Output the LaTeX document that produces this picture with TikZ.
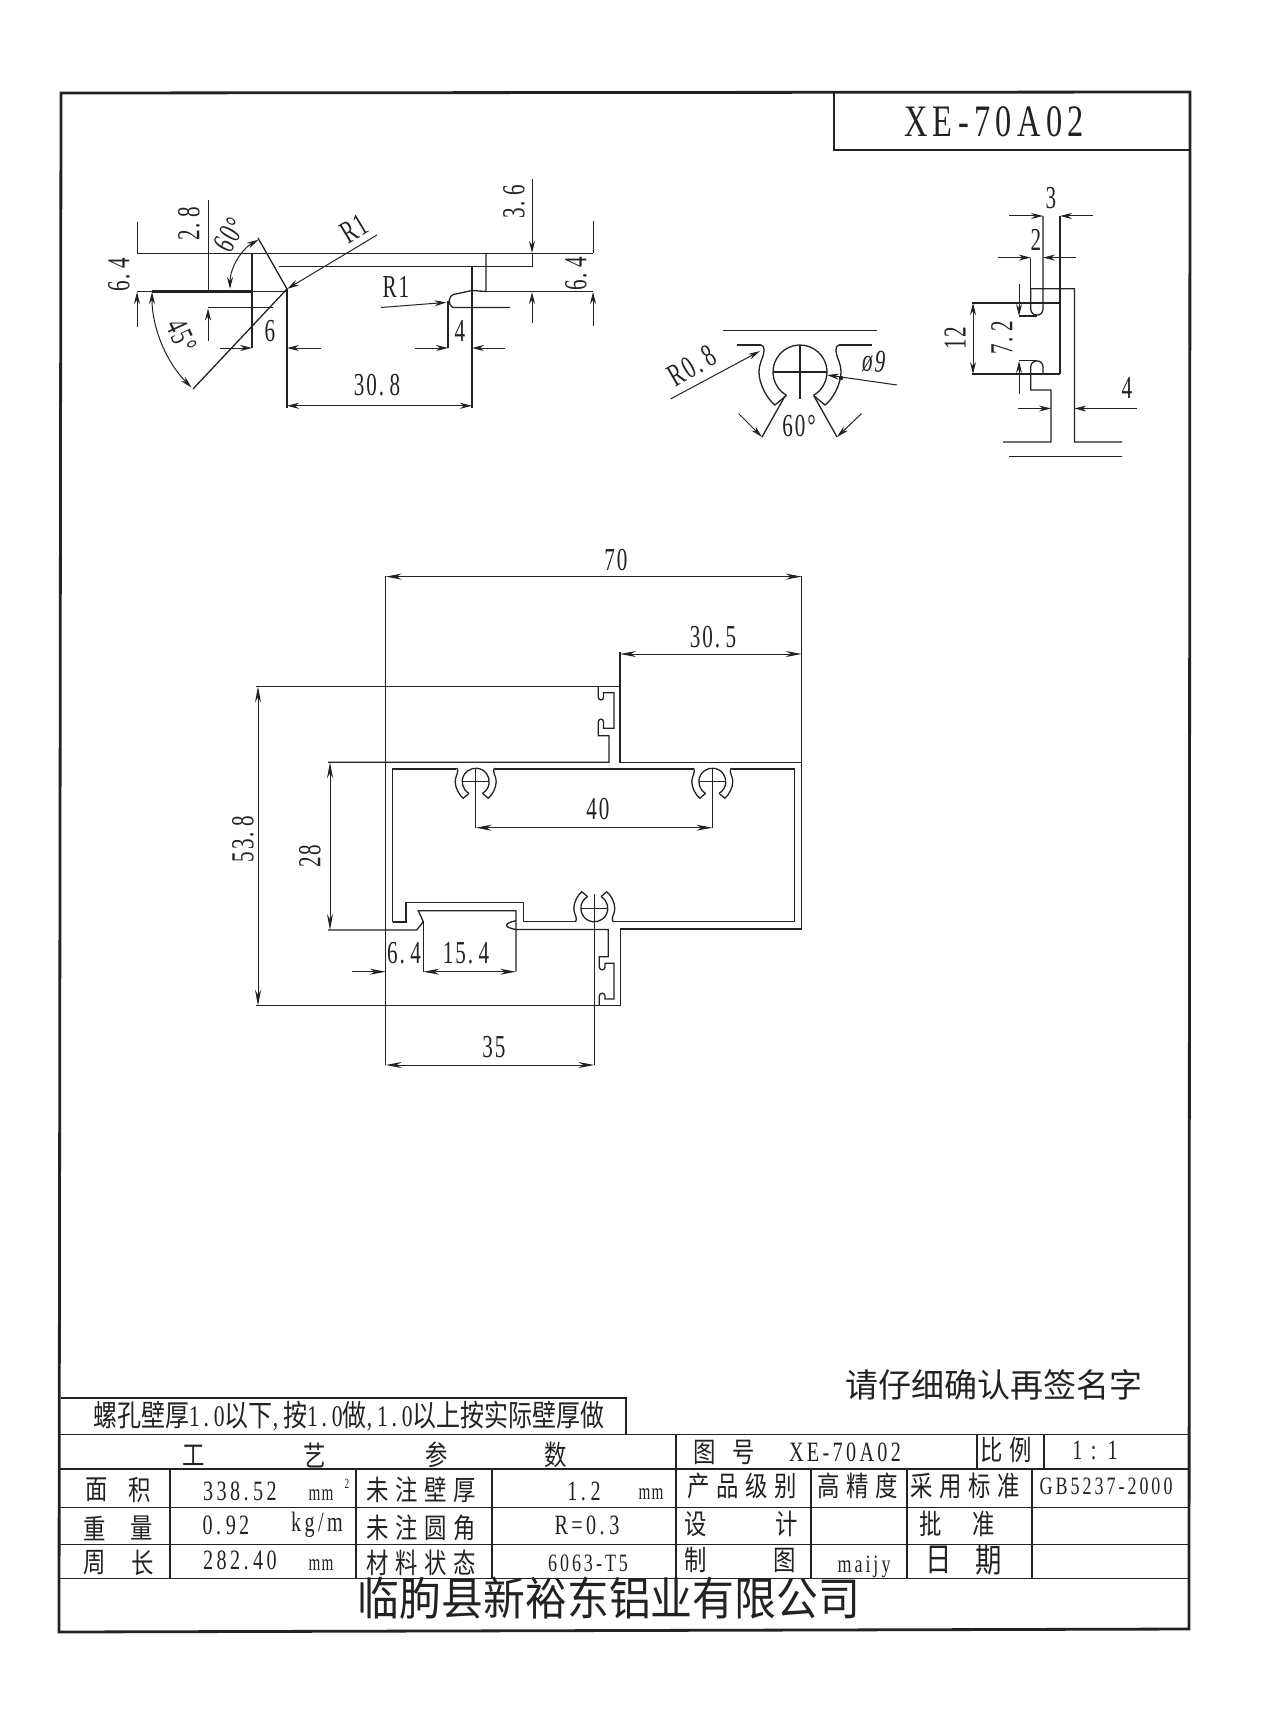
\documentclass[tikz,border=0pt]{standalone}
\usepackage{fontspec}
\setmainfont{Liberation Serif}[FakeStretch=0.66,LetterSpace=6]
\newfontfamily\wide{Liberation Serif}[FakeStretch=0.72,LetterSpace=12]
\newfontfamily\cjk{Noto Sans CJK SC}[FakeStretch=0.8]
\newfontfamily\cjksp{Noto Sans CJK SC}[FakeStretch=0.8,LetterSpace=24]
\newfontfamily\cjkw{Noto Sans CJK SC}
\newfontfamily\cjkn{Noto Sans CJK SC}[FakeStretch=0.92]
\usetikzlibrary{arrows.meta}
\definecolor{inkc}{HTML}{222222}
\tikzset{
  framed/.style={line width=2.8pt,color=inkc},
  rowline/.style={line width=1.8pt,color=inkc},
  part/.style={line width=1.3pt,color=inkc},
  dimline/.style={line width=1pt,color=inkc,>={Stealth[length=16pt,width=6pt]}},
  smalldim/.style={line width=1pt,color=inkc,>={Stealth[length=12pt,width=6pt]}},
  dimtext/.style={font=\fontsize{32}{32}\selectfont,inner sep=0pt,text=inkc},
  celltext/.style={font=\fontsize{28}{28}\selectfont,inner sep=0pt,text=inkc},
  screwboss/.pic={
    \draw[part] (120:27) arc (120:420:27);
    \draw[part] (-27,0) -- (27,0) (0,-27) -- (0,27);
    \foreach \s in {1,-1}
      \draw[part] (\s*13.5,23.4) -- (\s*25,33)
        .. controls (\s*33,27) and (\s*41,12) .. (\s*41,0)
        .. controls (\s*41,-9) and (\s*36,-16) .. (\s*36,-21)
        .. controls (\s*36,-25) and (\s*37,-27) .. (\s*39,-27);
  }
}
\begin{document}
\begin{tikzpicture}[x=1pt,y=-1pt]
  \useasboundingbox (0,0) rectangle (1264,1736);

  % sheet frame and title
  \draw[framed] (61,93) -- (1190,92) -- (1189,1629) -- (59,1632) -- cycle;
  \draw[rowline] (834,93) -- (834,150) -- (1190,150);
  \node[font=\fontsize{45}{45}\selectfont\wide,inner sep=0pt,text=inkc] (drawno) at (994,122) {XE-70A02};

  % top left detail
  \draw[part] (137,253.5) -- (593,253.5);
  \draw[part] (279,266.5) -- (533,266.5);
  \draw[dimline] (137,291.5) -- (287,291.5);
  \draw[line width=3pt,color=inkc] (152,291) -- (252,291);
  \draw[part] (258,238) -- (287,289) -- (193,389);
  \draw[part] (252,253.5) -- (252,348);
  \draw[part] (208,307.5) -- (273,307.5);
  \draw[part] (287,289) -- (287,407.5);
  \draw[part] (472,266.5) -- (472,407.5);
  \draw[part] (486,253.5) -- (486,291.5) -- (472,290.5) -- (453,294.6)
     .. controls (449,296) and (447,304) .. (453,307.5) -- (510,307.5);
  \draw[part] (486,291.5) -- (593,291.5);
  \draw[part] (448,300.7) -- (448,348);
  \draw[smalldim,<->] (287,405.8) -- (472,405.8);
  \node[dimtext] (l308) at (377,385) {30.\,8};
  \draw[smalldim,->] (377,235) -- (287,289);
  \node[dimtext,rotate=31] (r1a) at (354,229) {R1};
  \draw[smalldim,->] (381,307.5) -- (446.4,302.4);
  \node[dimtext] (r1b) at (396,287) {R1};
  \foreach \x/\ya/\yb/\yc/\yd in {137/222/253/327/292, 208/200/290/341/308.5, 593/221/253/326/292}
    \draw[smalldim,->] (\x,\ya) -- (\x,\yb) (\x,\yc) -- (\x,\yd);
  \draw[smalldim,->] (532,179) -- (532,253);
  \draw[smalldim,->] (532,323) -- (532,292);
  \draw[smalldim] (532,253) -- (532,266.5);
  \node[dimtext,rotate=90] (l28a) at (189,224) {2.\,8};
  \node[dimtext,rotate=90] (l64a) at (119,275) {6.\,4};
  \node[dimtext,rotate=90] (l36) at (514,202) {3.\,6};
  \node[dimtext,rotate=90] (l64b) at (576,274) {6.\,4};
  \draw[smalldim,<->] (230,289) arc (180:240:57);
  \node[dimtext,rotate=60] (a60a) at (230,235) {60°};
  \draw[smalldim,<->] (152,292) arc (180:135:135);
  \node[dimtext,rotate=-65] (a45) at (182,336) {45°};
  \foreach \xa/\xb/\ya in {220/252/348, 321/287/348, 415/448/348, 505/472/348}
    \draw[smalldim,->] (\xa,\ya) -- (\xb,\ya);
  \node[dimtext] (l6) at (270,331) {6};
  \node[dimtext] (l4a) at (460,331) {4};

  % top middle detail
  \draw[part] (723,330.5) -- (876.5,330.5);
  \draw[part] (737,345) -- (761,345);
  \draw[part] (839,345) -- (872,345);
  \pic at (800,372) {screwboss};
  \draw[part] (785,396) -- (762,437);
  \draw[part] (814,396) -- (837,437);
  \draw[smalldim,->] (738.6,413.6) -- (762,437);
  \draw[smalldim,->] (861.5,413.6) -- (837,437);
  \node[dimtext] (a60b) at (799,426) {60°};
  \draw[smalldim,->] (670.5,399) -- (760,351);
  \node[dimtext,rotate=30] (r08) at (692,366) {R0.\,8};
  \draw[smalldim,->] (897,385) -- (827,375);
  \fill[inkc] (841,378) circle (2.2);
  \node[dimtext,rotate=-8] (dia9) at (874,362) {ø9};

  % top right detail
  \draw[part] (1043,216) -- (1043,309) arc (0:180:6.15) -- (1030.7,288.8) -- (1074.4,288.8) -- (1074.4,442) -- (1122,442);
  \draw[part] (1060,216) -- (1060,374);
  \draw[part] (1043,374) -- (1043,367) arc (0:-180:6.15) -- (1030.7,390) -- (1051,390) -- (1051,442) -- (1003,442);
  \draw[part] (1030.7,257.6) -- (1030.7,288.8);
  \draw[part] (1008.5,456.6) -- (1122,456.6);
  \draw[part] (971.5,303) -- (1060,303) (971.5,374) -- (1060,374);
  \draw[part] (1019,316) -- (1037,316) (1019,360.7) -- (1037,360.7);
  \draw[smalldim,<->] (973,303) -- (973,374);
  \node[dimtext,rotate=90] (l12) at (955,338) {12};
  \draw[smalldim,->] (1019,284) -- (1019,316);
  \draw[smalldim,->] (1019,394) -- (1019,361);
  \node[dimtext,rotate=90] (l72) at (1002,338) {7.\,2};
  \foreach \xa/\xb/\ya in {1009/1043/216, 1093/1060/216, 998/1030.7/257.6, 1076/1043/257.6, 1018/1051/408.5, 1137/1074.4/408.5}
    \draw[smalldim,->] (\xa,\ya) -- (\xb,\ya);
  \node[dimtext] (l3) at (1051,198) {3};
  \node[dimtext] (l2) at (1036,240) {2};
  \node[dimtext] (l4b) at (1127,388) {4};

  % main section
  \draw[part] (385.7,576) -- (385.7,1065);
  \draw[part] (256,686.5) -- (620,686.5);
  \draw[part] (620,652) -- (620,762.3) -- (801.7,762.3);
  \draw[part] (801.7,576) -- (801.7,929) -- (620.7,929) -- (620.7,1005.7) -- (256,1005.7);
  \draw[part] (328,762.3) -- (609,762.3) -- (609,735.7) -- (598.3,735.7) -- (598.3,721.7) arc (180:360:2.6)
     -- (603.5,728.3) -- (614,728.3) -- (614,692.7) -- (603.5,692.7) -- (603.5,697.3) arc (0:180:2.6) -- (598.3,686.5);
  \draw[part] (328,930) -- (416.7,930) -- (423.3,921.7) -- (418.3,910.7) -- (516,910.7) -- (516,971.7);
  \draw[part] (423.3,921.7) -- (423.3,971.7);
  \draw[part] (516,920.7) .. controls (505,923) and (502,927) .. (516,929.5) -- (608.3,929.5) -- (608.3,956.7)
     -- (599.3,956.7) -- (599.3,967) arc (180:0:2.85) -- (605,963.3) -- (614,963.3) -- (614,999) -- (605,999) -- (605,996) arc (0:-180:2.85) -- (599.3,1005.7);
  \draw[part] (392.5,922) -- (392.5,769) -- (456.2,769);
  \draw[part] (495.2,769) -- (692.8,769);
  \draw[part] (731.8,769) -- (794.3,769) -- (794.3,921.5) -- (613.8,921.5);
  \draw[part] (574.8,921.7) -- (523.3,921.7) -- (523.3,902.7) -- (406,902.7) -- (406,922) -- (392.5,922);
  \foreach \cx in {475.7,712.3}
    \pic[scale=.5] at (\cx,781.7) {screwboss};
  \pic[scale=.5,rotate=180] at (594.3,908.3) {screwboss};
  \draw[part] (475.7,781.7) -- (475.7,827.7) (712.3,781.7) -- (712.3,827.7);
  \draw[part] (594.3,894) -- (594.3,1065);

  % main dimensions
  \draw[dimline,<->] (385.7,576.6) -- (801.7,576.6);
  \node[dimtext] (l70) at (616,560) {70};
  \draw[dimline,<->] (620,654) -- (801.7,654);
  \node[dimtext] (l305) at (713,637) {30.\,5};
  \draw[dimline,<->] (258,686.5) -- (258,1005.7);
  \node[dimtext,rotate=90] (l538) at (243,839) {53.\,8};
  \draw[dimline,<->] (330,762.3) -- (330,930);
  \node[dimtext,rotate=90] (l28) at (310,856) {28};
  \draw[dimline,<->] (475.7,827.7) -- (712.3,827.7);
  \node[dimtext] (l40) at (598,809) {40};
  \draw[dimline,<->] (385.7,1065) -- (594.3,1065);
  \node[dimtext] (l35) at (494,1047) {35};
  \draw[dimline,->] (352,971.7) -- (385.7,971.7);
  \draw[dimline,<->] (423.3,971.7) -- (516,971.7);
  \node[dimtext] (l64c) at (404,953) {6.\,4};
  \node[dimtext] (l154) at (466,953) {15.\,4};

  % title block
  \node[text=inkc,inner sep=0pt,font=\fontsize{33}{33}\selectfont] (check) at (994,1385) {\cjkw 请仔细确认再签名字};
  \draw[rowline] (61,1398) -- (626,1398) -- (626,1434);
  \node[celltext] (note) at (349,1416) {\fontsize{30}{30}\selectfont\cjk 螺孔壁厚\wide 1.\,0\cjk 以下\wide ,\,\cjk 按\wide 1.\,0\cjk 做\wide ,\,1.\,0\cjk 以上按实际壁厚做};
  \foreach \y in {1434.5,1469,1507.5,1544.5,1578.5}
    \draw[rowline] (60,\y) -- (1189,\y);
  \foreach \x in {170,356,492,811,907,1032}
    \draw[rowline] (\x,1469) -- (\x,1578.5);
  \draw[rowline] (676,1434.5) -- (676,1578.5);
  \draw[rowline] (977,1434.5) -- (977,1469) (1044,1434.5) -- (1044,1469);

  \foreach \x/\y/\txt [count=\i] in {194/1455/工,315/1455/艺,437/1455/参,556/1455/数,
      97/1490/面,140/1490/积,95/1528/重,142/1528/量,95/1563/周,143/1563/长,
      705/1452/图,744/1452/号,696/1524/设,787/1524/计,931/1524/批,984/1524/准,
      696/1560/制,785/1560/图}
    \node[celltext] (han\i) at (\x,\y) {\cjk \txt};
  \foreach \x/\txt [count=\i] in {939/日,989/期}
    \node[celltext,font=\fontsize{33}{33}\selectfont] (day\i) at (\x,1560) {\cjk \txt};
  \foreach \x/\y/\txt [count=\i] in {421/1490/未注壁厚,421/1528/未注圆角,421/1563/材料状态,
      742/1486/产品级别,858/1486/高精度,965/1486/采用标准}
    \node[celltext] (head\i) at (\x,\y) {\cjksp \txt};
  \node[celltext] (scale) at (1006,1450) {\cjksp 比例};
  \foreach \x/\y/\txt [count=\i] in {240/1491/338.\,52,226/1525/0.\,92,240/1560/282.\,40,584/1491/1.\,2,
      587/1525/R=0.\,3,845/1452/XE-70A02,1095/1450/1 : 1,317/1525/{kg/m}}
    \node[celltext] (val\i) at (\x,\y) {\wide \txt};
  \foreach \x/\y/\txt [count=\i] in {588/1563/6063-T5,1106/1486/GB5237-2000,864/1567/maijy}
    \node[celltext,font=\fontsize{25}{25}\selectfont] (code\i) at (\x,\y) {\wide \txt};
  \foreach \x/\y [count=\i] in {321/1495,321/1565,651/1494}
    \node[celltext,font=\fontsize{23}{23}\selectfont] (unit\i) at (\x,\y) {mm};
  \node[celltext,font=\fontsize{14}{14}\selectfont] (sq) at (347,1484) {2};
  \node[text=inkc,inner sep=0pt,font=\fontsize{45.5}{46}\selectfont] (company) at (609,1598) {\cjkn 临朐县新裕东铝业有限公司};
\end{tikzpicture}
\end{document}
